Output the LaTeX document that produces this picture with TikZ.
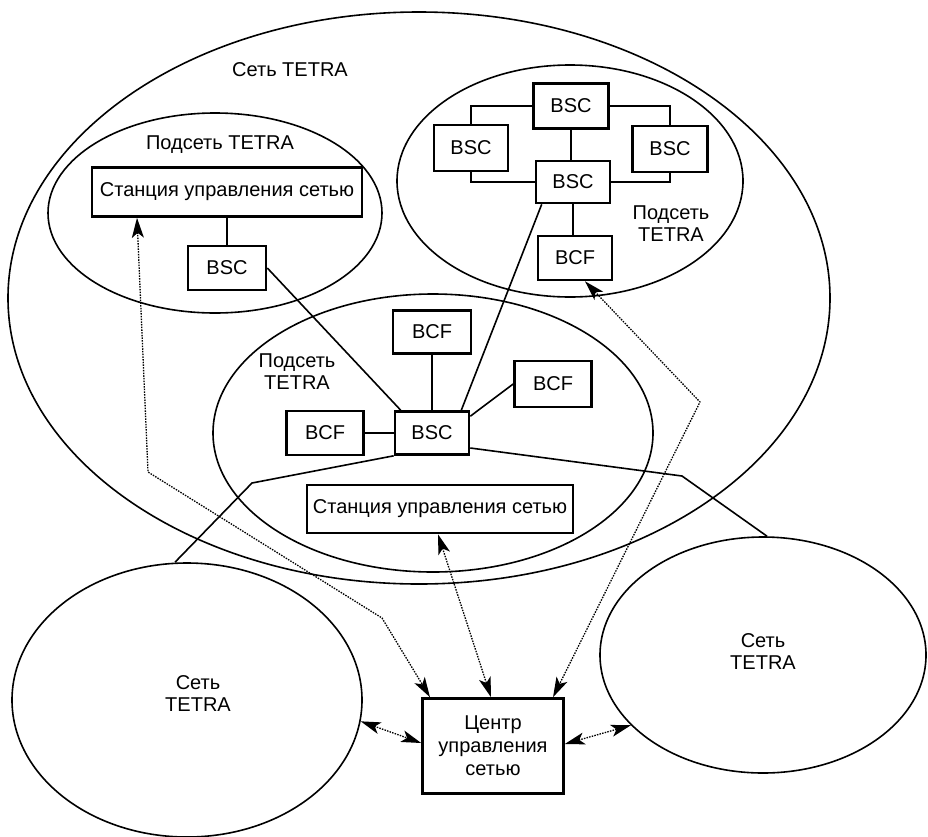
\documentclass[tikz,border=0pt]{standalone}
\usepackage{fontspec}
\setmainfont{Liberation Sans}
\usetikzlibrary{shapes.geometric,arrows.meta}
\begin{document}
\begin{tikzpicture}[x=1pt,y=-1pt,
  txt/.style={font=\fontsize{20}{22}\selectfont, align=center, inner sep=0pt},
  ell/.style={draw, ellipse, line width=1.6pt, inner sep=0pt},
  box/.style={draw, fill=white, line width=2.6pt, inner sep=0pt, txt},
  wire/.style={line width=1.6pt},
  tip/.tip={Stealth[length=20pt,width=12pt,inset=5pt]},
  ctrl/.style={line width=1.3pt, dash pattern=on 1.5pt off 1.2pt, tip-tip}]
\fill[white] (0,0) rectangle (928,836);
\useasboundingbox (0,0) rectangle (928,836);

% ellipses
\node[ell, minimum width=822pt, minimum height=572pt] (big) at (419,298) {};
\node[ell, minimum width=334pt, minimum height=200pt] (sub1) at (215,213) {};
\node[ell, minimum width=346pt, minimum height=232pt] (sub2) at (570,181) {};
\node[ell, minimum width=440pt, minimum height=278pt] (sub3) at (433,433) {};
\node[ell, minimum width=350pt, minimum height=274pt] (lnet) at (187,700) {};
\node[ell, minimum width=326pt, minimum height=236pt] (rnet) at (763,655) {};

% labels
\node[txt] (lbig) at (290,70) {Сеть TETRA};
\node[txt] (lsub1) at (220,145) {Подсеть TETRA};
\node[txt] (lsub2) at (671,224) {Подсеть\\TETRA};
\node[txt] (lsub3) at (297,372) {Подсеть\\TETRA};
\node[txt] (llnet) at (198,694) {Сеть\\TETRA};
\node[txt] (lrnet) at (763,652) {Сеть\\TETRA};

% boxes
\node[box, minimum width=270pt, minimum height=49pt] (st1) at (227,192) {Станция управления сетью};
\node[box, minimum width=78pt, minimum height=44pt] (bsc1) at (227,268) {BSC};
\node[box, minimum width=75pt, minimum height=45pt] (bscT) at (571,106) {BSC};
\node[box, minimum width=74pt, minimum height=46pt] (bscL) at (471,148) {BSC};
\node[box, minimum width=75pt, minimum height=46pt] (bscR) at (670,149) {BSC};
\node[box, minimum width=74pt, minimum height=42pt] (bscC) at (573,182) {BSC};
\node[box, minimum width=74pt, minimum height=44pt] (bcfT) at (575,258) {BCF};
\node[box, minimum width=78pt, minimum height=43pt] (bcf1) at (432,332) {BCF};
\node[box, minimum width=77pt, minimum height=46pt] (bcf2) at (553,384) {BCF};
\node[box, minimum width=77pt, minimum height=44pt] (bcf3) at (325,433) {BCF};
\node[box, minimum width=74pt, minimum height=43pt] (bsc2) at (432,433) {BSC};
\node[box, minimum width=266pt, minimum height=48pt] (st2) at (440,509) {Станция управления сетью};
\node[box, minimum width=141pt, minimum height=95pt, font=\fontsize{20}{23}\selectfont] (nmc) at (493,746) {Центр\\управления\\сетью};

\coordinate (k1) at (252,483);
\coordinate (k2) at (682,476);
\coordinate (d1) at (148,472);
\coordinate (d2) at (382,618);
\coordinate (d3) at (700,402);

% solid connectors
\draw[wire] (st1.south) -- (bsc1.north);
\draw[wire] (bsc1.east) -- ([xshift=7]bsc2.north west);
\draw[wire] (bscT.west) -| (bscL.north);
\draw[wire] (bscL.south) |- (bscC.west);
\draw[wire] (bscT.east) -| (bscR.north);
\draw[wire] (bscR.south) |- (bscC.east);
\draw[wire] (bscT.south) -- (bscT.south |- bscC.north);
\draw[wire] (bscC.south) -- (bscC.south |- bcfT.north);
\draw[wire] (bcf1.south) -- (bsc2.north);
\draw[wire] (bcf3.east) -- (bsc2.west);
\draw[wire] ([yshift=-6]bsc2.north east) -- (bcf2.west);
\draw[wire] ([xshift=-9]bsc2.north east) -- ([xshift=7]bscC.south west);
\draw[wire] (bsc2.south west) -- (k1) -- ([xshift=-12]lnet.north);
\draw[wire] ([yshift=-15]bsc2.east) -- (k2) -- ([xshift=4]rnet.north);

% control links
\draw[ctrl] ([xshift=-90]st1.south) -- (d1) -- (d2) -- ([xshift=-63]nmc.north);
\draw[ctrl] ([xshift=-2]st2.south) -- ([xshift=-2]nmc.north);
\draw[ctrl] ([xshift=10]bcfT.south) -- (d3) -- ([xshift=60]nmc.north);
\draw[ctrl] (lnet.-7) -- ([yshift=3]nmc.west);
\draw[ctrl] ([yshift=2]nmc.east) -- (rnet.208);
\end{tikzpicture}
\end{document}
